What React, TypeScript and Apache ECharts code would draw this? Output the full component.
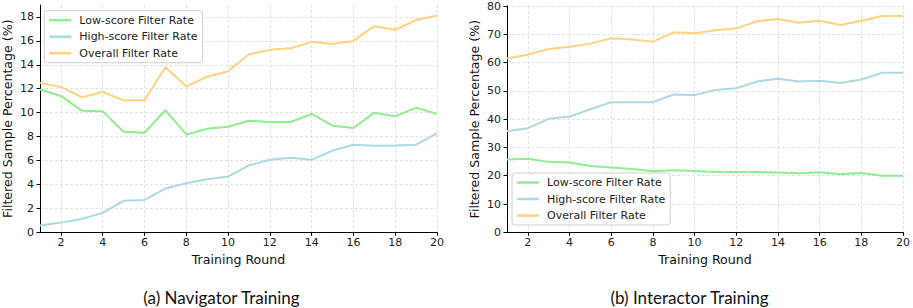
import React, { useEffect, useRef } from "react";
import * as echarts from "echarts";

const rounds = [1, 2, 3, 4, 5, 6, 7, 8, 9, 10, 11, 12, 13, 14, 15, 16, 17, 18, 19, 20];

const navLow = [11.93, 11.4, 10.17, 10.11, 8.41, 8.32, 10.2, 8.18, 8.66, 8.83, 9.33, 9.22, 9.22, 9.89, 8.91, 8.72, 10.0, 9.69, 10.42, 9.89];
const navHigh = [0.56, 0.81, 1.12, 1.62, 2.63, 2.71, 3.66, 4.1, 4.44, 4.66, 5.59, 6.06, 6.23, 6.06, 6.84, 7.32, 7.23, 7.26, 7.32, 8.27];
const navOverall = [12.49, 12.15, 11.28, 11.73, 11.03, 11.03, 13.8, 12.2, 13.0, 13.46, 14.89, 15.25, 15.39, 15.92, 15.75, 16.0, 17.23, 16.93, 17.74, 18.13];

const intLow = [25.7, 26.0, 24.9, 24.7, 23.4, 22.9, 22.4, 21.6, 21.9, 21.7, 21.3, 21.3, 21.3, 21.1, 20.9, 21.2, 20.5, 21.0, 20.0, 20.0];
const intHigh = [35.8, 36.8, 40.1, 40.9, 43.5, 46.0, 46.0, 46.0, 48.7, 48.5, 50.3, 50.9, 53.3, 54.3, 53.3, 53.6, 52.8, 54.0, 56.4, 56.4];
const intOverall = [61.5, 62.8, 64.8, 65.6, 66.7, 68.6, 68.2, 67.4, 70.7, 70.4, 71.4, 72.1, 74.6, 75.4, 74.1, 74.8, 73.3, 74.8, 76.5, 76.5];

const xTicks = [2, 4, 6, 8, 10, 12, 14, 16, 18, 20];
const navYTicks = [0, 2, 4, 6, 8, 10, 12, 14, 16, 18];
const intYTicks = [0, 10, 20, 30, 40, 50, 60, 70, 80];

const seriesNames = ["Low-score Filter Rate", "High-score Filter Rate", "Overall Filter Rate"];
const colors = ["#90EE90", "#ADD8E6", "#FFD280"];
const xName = "Training Round";
const yName = "Filtered Sample Percentage (%)";
const titles = ["(a) Navigator Training", "(b) Interactor Training"];

const FONT = "DejaVu Sans";

export default function App() {
  const ref = useRef<HTMLDivElement>(null);
  useEffect(() => {
    if (!ref.current) return;
    const chart = echarts.init(ref.current, undefined, { renderer: "svg" });
    const splitLine = { show: true, lineStyle: { color: "#dadada", type: [3, 2], width: 0.8 } };
    const axisLine = { show: true, onZero: false, lineStyle: { color: "#000", width: 1 } };
    const labelStyle = { color: "#222", fontFamily: FONT, fontSize: 11 };
    const mkX = (gridIndex: number) => ({
      type: "value",
      gridIndex,
      min: 1,
      max: 20,
      axisLine,
      axisTick: { show: true, length: 3.5, lineStyle: { color: "#000" }, customValues: xTicks },
      axisLabel: { ...labelStyle, margin: 5, customValues: xTicks },
      splitLine,
      name: xName,
      nameLocation: "middle",
      nameGap: 20,
      nameTextStyle: { color: "#111", fontFamily: FONT, fontSize: 12.6 },
    });
    const mkY = (gridIndex: number, max: number, ticks: number[]) => ({
      type: "value",
      gridIndex,
      min: 0,
      max,
      axisLine,
      axisTick: { show: true, length: 3.5, lineStyle: { color: "#000" }, customValues: ticks },
      axisLabel: { ...labelStyle, margin: 6, customValues: ticks },
      splitLine,
      name: yName,
      nameLocation: "middle",
      nameGap: 26,
      nameTextStyle: { color: "#111", fontFamily: FONT, fontSize: 12.6 },
    });
    const data = [
      [navLow, navHigh, navOverall],
      [intLow, intHigh, intOverall],
    ];
    const series: any[] = [];
    data.forEach((set, gi) => {
      set.forEach((vals, si) => {
        series.push({
          type: "line",
          name: seriesNames[si],
          xAxisIndex: gi,
          yAxisIndex: gi,
          data: rounds.map((r, i) => [r, vals[i]]),
          showSymbol: false,
          symbol: "none",
          lineStyle: { color: colors[si], width: 2 },
          itemStyle: { color: colors[si] },
          z: 3,
        });
      });
    });
    const mkLegend = (left: number, top: number) => ({
      left,
      top,
      orient: "vertical",
      data: seriesNames,
      icon: "rect",
      itemWidth: 22,
      itemHeight: 2.5,
      itemGap: 3.5,
      padding: [3, 5, 3, 5],
      backgroundColor: "rgba(255,255,255,0.85)",
      borderColor: "#cfcfcf",
      borderWidth: 1,
      borderRadius: 3,
      selectedMode: false,
      textStyle: { color: "#222", fontFamily: FONT, fontSize: 11, lineHeight: 13, padding: [0, 0, 0, 3] },
    });
    chart.setOption({
      animation: false,
      backgroundColor: "#fff",
      grid: [
        { left: 39, top: 5, width: 398, height: 227.3 },
        { left: 507, top: 6, width: 398, height: 226.3 },
      ],
      xAxis: [mkX(0), mkX(1)],
      yAxis: [mkY(0, 19, navYTicks), mkY(1, 80, intYTicks)],
      legend: [mkLegend(44.3, 10.7), mkLegend(512, 173)],
      series,
      graphic: [
        {
          type: "text",
          x: 221.5,
          y: 297,
          style: { text: titles[0], font: "17px Lato", fill: "#111", textAlign: "center", textVerticalAlign: "middle" },
        },
        {
          type: "text",
          x: 689.5,
          y: 297,
          style: { text: titles[1], font: "17px Lato", fill: "#111", textAlign: "center", textVerticalAlign: "middle" },
        },
      ],
    });
    return () => chart.dispose();
  }, []);
  return <div ref={ref} style={{ width: 913, height: 308, position: "absolute", left: 0, top: 0 }} />;
}
